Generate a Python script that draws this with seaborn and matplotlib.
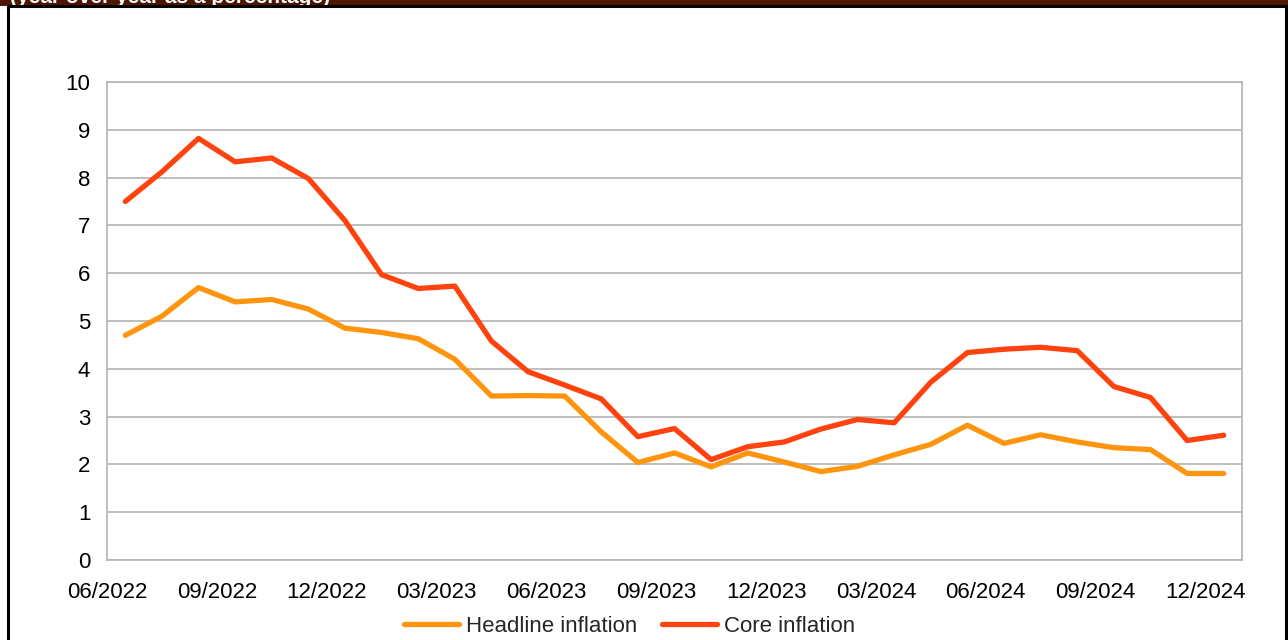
import pandas as pd
import numpy as np
import matplotlib.pyplot as plt
import seaborn as sns
from matplotlib.patches import Rectangle

# monthly values (year over year, %)
headline = [4.7, 5.1, 5.7, 5.4, 5.45, 5.25, 4.85, 4.76, 4.63, 4.2,
            3.43, 3.44, 3.43, 2.68, 2.04, 2.24, 1.95, 2.24, 2.05, 1.85,
            1.96, 2.2, 2.42, 2.82, 2.44, 2.62, 2.47, 2.35, 2.31, 1.81, 1.81]
core = [7.5, 8.12, 8.82, 8.33, 8.41, 7.98, 7.1, 5.97, 5.68, 5.73,
        4.58, 3.94, 3.66, 3.37, 2.58, 2.75, 2.1, 2.37, 2.47, 2.74,
        2.94, 2.87, 3.72, 4.34, 4.41, 4.45, 4.38, 3.63, 3.4, 2.5, 2.61]
tick_labels = ['06/2022', '09/2022', '12/2022', '03/2023', '06/2023', '09/2023',
               '12/2023', '03/2024', '06/2024', '09/2024', '12/2024']
series_names = ['Headline inflation', 'Core inflation']
colors = ['#ff950e', '#ff420e']

n = len(core)
df = pd.DataFrame({
    'month': list(range(n)) * 2,
    'value': headline + core,
    'series': [series_names[0]] * n + [series_names[1]] * n,
})

sns.set_style('white')
plt.rcParams['font.family'] = ['Liberation Sans', 'DejaVu Sans']

fig = plt.figure(figsize=(12.88, 6.4), dpi=100)
ax = fig.add_axes([107 / 1288, 1 - 560 / 640, (1242 - 107) / 1288, (560 - 82) / 640])

sns.lineplot(data=df, x='month', y='value', hue='series', palette=colors,
             linewidth=3.8, ax=ax, legend=False)

grey = '#b3b3b3'
ax.set_xlim(-0.5, n - 0.5)
ax.set_ylim(0, 10)
ax.set_yticks(range(0, 11))
ax.set_xticks(np.arange(-0.5, n, 3))
ax.set_xticklabels(tick_labels)
ax.set_xlabel('')
ax.set_ylabel('')
ax.yaxis.grid(True, color=grey, linewidth=1.2)
ax.set_axisbelow(True)
for s in ax.spines.values():
    s.set_color(grey)
    s.set_linewidth(1.2)
ax.tick_params(axis='both', labelsize=16, colors=grey, labelcolor='black',
               direction='out', width=1.2)
ax.tick_params(axis='x', length=8, pad=8)
ax.tick_params(axis='y', length=7, pad=5)

# legend below the plot
handles = [plt.Line2D([], [], color=c, linewidth=3.8) for c in colors]
fig.legend(handles, series_names, loc='center', bbox_to_anchor=(0.489, 1 - 626 / 640),
           ncol=2, frameon=False, fontsize=16, handlelength=2.45,
           handletextpad=0.35, columnspacing=1.1)

# dark header band with clipped subtitle and black frame
fig.patches.append(Rectangle((0, 1 - 6 / 640), 1, 6 / 640, transform=fig.transFigure,
                             facecolor='#4d1600', edgecolor='none', zorder=0))
fig.text(10 / 1288, 1 - 3 / 640, '(year over year as a percentage)', color='white',
         fontsize=15, fontweight='bold', va='baseline', ha='left')
fig.patches.append(Rectangle((8 / 1288, -0.05), (1286 - 8) / 1288, 1.05 - 6 / 640,
                             transform=fig.transFigure, facecolor='none',
                             edgecolor='black', linewidth=2.2, zorder=5))

fig.savefig('out.png', dpi=100)
